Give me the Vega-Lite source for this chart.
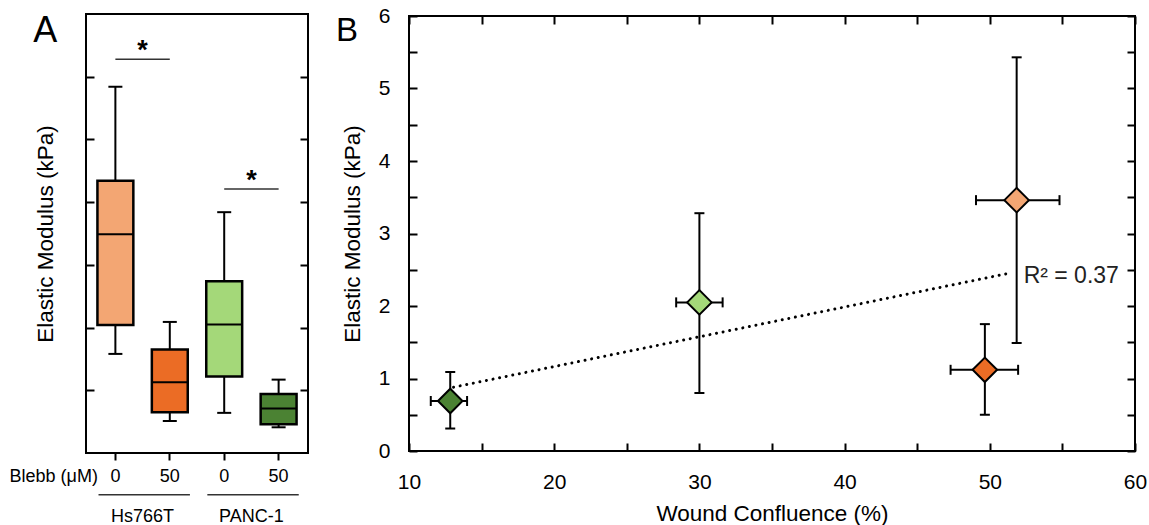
{
  "$schema": "https://vega.github.io/schema/vega-lite/v6.json",
  "padding": {"left": 8, "top": 4, "right": 0, "bottom": 0},
  "background": "white",
  "config": {
    "font": "Liberation Sans",
    "view": {"stroke": "black", "strokeWidth": 2},
    "axis": {"labelFont": "Liberation Sans", "titleFont": "Liberation Sans", "labelColor": "black", "titleColor": "black", "tickColor": "black", "titleFontWeight": "normal", "titleFontSize": 22.5, "grid": false, "domain": false, "tickWidth": 2}
  },
  "datasets": {
    "boxes": [
      {"cond": "H0", "lower": 1.58, "q1": 2.04, "median": 3.49, "q3": 4.34, "upper": 5.84, "color": "H0"},
      {"cond": "H50", "lower": 0.51, "q1": 0.65, "median": 1.13, "q3": 1.65, "upper": 2.09, "color": "H50"},
      {"cond": "P0", "lower": 0.64, "q1": 1.22, "median": 2.05, "q3": 2.74, "upper": 3.84, "color": "P0"},
      {"cond": "P50", "lower": 0.41, "q1": 0.46, "median": 0.71, "q3": 0.94, "upper": 1.17, "color": "P50"}
    ],
    "sig": [
      {"start": "H0", "end": "H50", "y": 6.28, "star": "*"},
      {"start": "P0", "end": "P50", "y": 4.21, "star": "*"}
    ],
    "groups": [
      {"start": "H0", "end": "H50", "name": "Hs766T", "liney": -0.665, "texty": -1.02},
      {"start": "P0", "end": "P50", "name": "PANC-1", "liney": -0.665, "texty": -1.02}
    ],
    "blebb": [
      {"cond": "H0", "label": "Blebb (μM)", "y": -0.38}
    ],
    "panelA": [
      {"cond": "H0", "label": "A", "y": 6.55}
    ],
    "panelB": [
      {"x": 4.97, "y": 5.66, "label": "B"}
    ],
    "points": [
      {"cell": "PANC-1 50", "x": 12.84, "xlo": 11.5, "xhi": 14.0, "y": 0.69, "ylo": 0.31, "yhi": 1.09},
      {"cell": "PANC-1 0", "x": 30.0, "xlo": 28.4, "xhi": 31.6, "y": 2.05, "ylo": 0.8, "yhi": 3.28},
      {"cell": "Hs766T 0", "x": 51.85, "xlo": 49.05, "xhi": 54.8, "y": 3.46, "ylo": 1.49, "yhi": 5.43},
      {"cell": "Hs766T 50", "x": 49.66, "xlo": 47.3, "xhi": 51.95, "y": 1.12, "ylo": 0.5, "yhi": 1.75}
    ],
    "trend": [
      {"x1": 13.07, "y1": 0.88, "x2": 51.53, "y2": 2.46}
    ],
    "rlabel": [
      {"x": 52.33, "y": 2.42, "text": "R² = 0.37"}
    ]
  },
  "hconcat": [
    {
      "width": 222,
      "height": 439,
      "layer": [
        {
          "data": {"name": "boxes"},
          "mark": {"type": "rule", "color": "black", "strokeWidth": 2},
          "encoding": {
            "x": {"field": "cond", "type": "nominal", "scale": {"type": "band", "domain": ["H0", "H50", "P0", "P50"], "paddingInner": 0, "paddingOuter": 0.04},
                  "axis": {"orient": "bottom", "title": null, "tickSize": 7, "labelFontSize": 18, "labelPadding": 7, "labelAngle": 0, "labelExpr": "(datum.value == 'H0' || datum.value == 'P0') ? '0' : '50'"}},
            "y": {"field": "lower", "type": "quantitative", "scale": {"domain": [0, 7], "nice": false, "zero": false},
                  "axis": {"orient": "left", "values": [1, 2, 3, 4, 5, 6], "labels": false, "tickSize": -8, "title": "Elastic Modulus (kPa)", "titleFontSize": 22.5, "titlePadding": 28}},
            "y2": {"field": "upper"}
          }
        },
        {
          "data": {"name": "boxes"},
          "mark": {"type": "tick", "orient": "horizontal", "color": "black", "size": 14, "thickness": 2, "opacity": 1},
          "encoding": {
            "x": {"field": "cond", "type": "nominal", "axis": null},
            "y": {"field": "lower", "type": "quantitative",
                  "axis": {"orient": "right", "values": [1, 2, 3, 4, 5, 6], "labels": false, "tickSize": -8, "title": null}}
          }
        },
        {
          "data": {"name": "boxes"},
          "mark": {"type": "tick", "orient": "horizontal", "color": "black", "size": 14, "thickness": 2, "opacity": 1},
          "encoding": {
            "x": {"field": "cond", "type": "nominal", "axis": null},
            "y": {"field": "upper", "type": "quantitative", "axis": null}
          }
        },
        {
          "data": {"name": "boxes"},
          "mark": {"type": "bar", "stroke": "black", "strokeWidth": 2.5, "width": {"band": 0.66}, "opacity": 1},
          "encoding": {
            "x": {"field": "cond", "type": "nominal", "axis": null},
            "y": {"field": "q1", "type": "quantitative", "axis": null},
            "y2": {"field": "q3"},
            "fill": {"field": "color", "type": "nominal", "scale": {"domain": ["H0", "H50", "P0", "P50"], "range": ["#F3A673", "#EB6C25", "#A4D879", "#4B8233"]}, "legend": null}
          }
        },
        {
          "data": {"name": "boxes"},
          "mark": {"type": "tick", "orient": "horizontal", "color": "black", "size": 36, "thickness": 2, "opacity": 1},
          "encoding": {
            "x": {"field": "cond", "type": "nominal", "axis": null},
            "y": {"field": "median", "type": "quantitative", "axis": null}
          }
        },
        {
          "data": {"name": "sig"},
          "mark": {"type": "rule", "color": "#333333", "strokeWidth": 1.5},
          "encoding": {
            "x": {"field": "start", "type": "nominal", "bandPosition": 0.5, "axis": null},
            "x2": {"field": "end", "bandPosition": 0.5},
            "y": {"field": "y", "type": "quantitative", "axis": null}
          }
        },
        {
          "data": {"name": "sig"},
          "mark": {"type": "text", "fontSize": 27, "fontWeight": "bold", "baseline": "alphabetic", "align": "center", "color": "black"},
          "encoding": {
            "x": {"field": "start", "type": "nominal", "bandPosition": 1, "axis": null},
            "y": {"field": "y", "type": "quantitative", "axis": null},
            "text": {"field": "star"}
          }
        },
        {
          "data": {"name": "groups"},
          "mark": {"type": "rule", "color": "#333333", "strokeWidth": 1.5},
          "encoding": {
            "x": {"field": "start", "type": "nominal", "bandPosition": 0.19, "axis": null},
            "x2": {"field": "end", "bandPosition": 0.87},
            "y": {"field": "liney", "type": "quantitative", "axis": null}
          }
        },
        {
          "data": {"name": "groups"},
          "mark": {"type": "text", "fontSize": 18, "baseline": "middle", "align": "center", "color": "black"},
          "encoding": {
            "x": {"field": "start", "type": "nominal", "bandPosition": 1, "axis": null},
            "y": {"field": "texty", "type": "quantitative", "axis": null},
            "text": {"field": "name"}
          }
        },
        {
          "data": {"name": "blebb"},
          "mark": {"type": "text", "fontSize": 18, "baseline": "middle", "align": "right", "color": "black"},
          "encoding": {
            "x": {"field": "cond", "type": "nominal", "bandPosition": 0.18, "axis": null},
            "y": {"field": "y", "type": "quantitative", "axis": null},
            "text": {"field": "label"}
          }
        },
        {
          "data": {"name": "panelA"},
          "mark": {"type": "text", "fontSize": 36, "baseline": "alphabetic", "align": "left", "color": "black", "dx": -55},
          "encoding": {
            "x": {"field": "cond", "type": "nominal", "bandPosition": 0, "axis": null},
            "y": {"field": "y", "type": "quantitative", "axis": null},
            "text": {"field": "label"}
          }
        }
      ],
      "resolve": {"axis": {"x": "independent", "y": "independent"}}
    },
    {
      "width": 726,
      "height": 435,
      "layer": [
        {
          "data": {"name": "points"},
          "mark": {"type": "rule", "color": "black", "strokeWidth": 2},
          "encoding": {
            "x": {"field": "x", "type": "quantitative", "scale": {"domain": [10, 60], "nice": false, "zero": false},
                  "axis": {"orient": "bottom", "values": [10, 15, 20, 25, 30, 35, 40, 45, 50, 55, 60], "labelExpr": "datum.value % 10 == 0 ? datum.value : ''", "tickSize": -8, "labelFontSize": 21, "labelPadding": 28, "title": "Wound Confluence (%)", "titleFontSize": 22.5, "titlePadding": 10, "labelFlush": false, "labelOverlap": false}},
            "y": {"field": "ylo", "type": "quantitative", "scale": {"domain": [0, 6], "nice": false, "zero": false},
                  "axis": {"orient": "left", "values": [0, 0.5, 1, 1.5, 2, 2.5, 3, 3.5, 4, 4.5, 5, 5.5, 6], "labelExpr": "datum.value % 1 == 0 ? datum.value : ''", "tickSize": -8, "labelFontSize": 21, "labelPadding": 27, "title": "Elastic Modulus (kPa)", "titleFontSize": 22.5, "titlePadding": 14, "labelFlush": false, "labelOverlap": false}},
            "y2": {"field": "yhi"}
          }
        },
        {
          "data": {"name": "points"},
          "mark": {"type": "rule", "color": "black", "strokeWidth": 2},
          "encoding": {
            "x": {"field": "xlo", "type": "quantitative",
                  "axis": {"orient": "top", "values": [10, 15, 20, 25, 30, 35, 40, 45, 50, 55, 60], "labels": false, "tickSize": -8, "title": null}},
            "x2": {"field": "xhi"},
            "y": {"field": "y", "type": "quantitative",
                  "axis": {"orient": "right", "values": [0, 0.5, 1, 1.5, 2, 2.5, 3, 3.5, 4, 4.5, 5, 5.5, 6], "labels": false, "tickSize": -8, "title": null}}
          }
        },
        {
          "data": {"name": "points"},
          "mark": {"type": "tick", "orient": "horizontal", "color": "black", "size": 10, "thickness": 2, "opacity": 1},
          "encoding": {
            "x": {"field": "x", "type": "quantitative", "axis": null},
            "y": {"field": "ylo", "type": "quantitative", "axis": null}
          }
        },
        {
          "data": {"name": "points"},
          "mark": {"type": "tick", "orient": "horizontal", "color": "black", "size": 10, "thickness": 2, "opacity": 1},
          "encoding": {
            "x": {"field": "x", "type": "quantitative", "axis": null},
            "y": {"field": "yhi", "type": "quantitative", "axis": null}
          }
        },
        {
          "data": {"name": "points"},
          "mark": {"type": "tick", "orient": "vertical", "color": "black", "size": 10, "thickness": 2, "opacity": 1},
          "encoding": {
            "x": {"field": "xlo", "type": "quantitative", "axis": null},
            "y": {"field": "y", "type": "quantitative", "axis": null}
          }
        },
        {
          "data": {"name": "points"},
          "mark": {"type": "tick", "orient": "vertical", "color": "black", "size": 10, "thickness": 2, "opacity": 1},
          "encoding": {
            "x": {"field": "xhi", "type": "quantitative", "axis": null},
            "y": {"field": "y", "type": "quantitative", "axis": null}
          }
        },
        {
          "data": {"name": "trend"},
          "mark": {"type": "rule", "color": "black", "strokeWidth": 3, "strokeDash": [0.01, 6.7], "strokeCap": "round"},
          "encoding": {
            "x": {"field": "x1", "type": "quantitative", "axis": null},
            "y": {"field": "y1", "type": "quantitative", "axis": null},
            "x2": {"field": "x2"},
            "y2": {"field": "y2"}
          }
        },
        {
          "data": {"name": "points"},
          "mark": {"type": "point", "shape": "diamond", "filled": true, "size": 600, "stroke": "black", "strokeWidth": 2, "opacity": 1},
          "encoding": {
            "x": {"field": "x", "type": "quantitative", "axis": null},
            "y": {"field": "y", "type": "quantitative", "axis": null},
            "fill": {"field": "cell", "type": "nominal", "scale": {"domain": ["Hs766T 0", "Hs766T 50", "PANC-1 0", "PANC-1 50"], "range": ["#F3A673", "#C24E1F", "#A4D879", "#4B8233"]}, "legend": null}
          }
        },
        {
          "data": {"name": "rlabel"},
          "mark": {"type": "text", "fontSize": 23, "align": "left", "baseline": "middle", "color": "#222222"},
          "encoding": {
            "x": {"field": "x", "type": "quantitative", "axis": null},
            "y": {"field": "y", "type": "quantitative", "axis": null},
            "text": {"field": "text"}
          }
        },
        {
          "data": {"name": "panelB"},
          "mark": {"type": "text", "fontSize": 33, "align": "left", "baseline": "alphabetic", "color": "black"},
          "encoding": {
            "x": {"field": "x", "type": "quantitative", "axis": null},
            "y": {"field": "y", "type": "quantitative", "axis": null},
            "text": {"field": "label"}
          }
        }
      ],
      "resolve": {"axis": {"x": "independent", "y": "independent"}}
    }
  ],
  "spacing": 101,
  "bounds": "flush",
  "center": true
}
